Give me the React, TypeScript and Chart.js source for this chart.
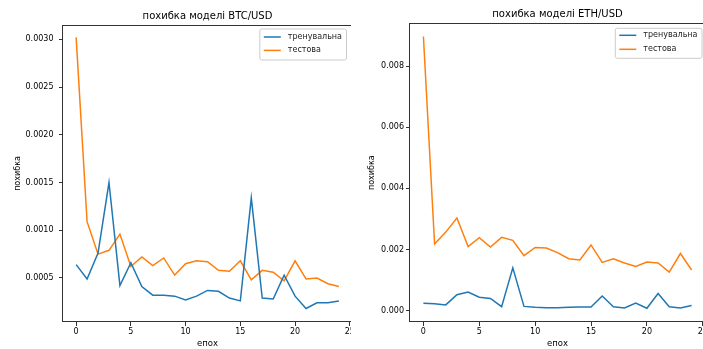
import React, { useEffect, useRef } from "react";
import { Chart, registerables } from "chart.js";

Chart.register(...registerables);

// ---------- data ----------
const epochs = [0, 1, 2, 3, 4, 5, 6, 7, 8, 9, 10, 11, 12, 13, 14, 15, 16, 17, 18, 19, 20, 21, 22, 23, 24];

const btcTrain = [
  0.00064, 0.00049, 0.00076, 0.0015, 0.00042, 0.00066, 0.00041, 0.00032, 0.00032, 0.00031,
  0.00027, 0.00031, 0.00037, 0.00036, 0.00029, 0.00026, 0.00134, 0.00029, 0.00028, 0.00053,
  0.00031, 0.00018, 0.00024, 0.00024, 0.00026,
];
const btcTest = [
  0.00302, 0.00109, 0.00075, 0.00079, 0.00096, 0.00062, 0.00072, 0.00063, 0.00071, 0.00053,
  0.00065, 0.00068, 0.00067, 0.00058, 0.00057, 0.00068, 0.00048, 0.00058, 0.00056, 0.00047,
  0.00068, 0.00049, 0.0005, 0.00044, 0.00041,
];
const ethTrain = [
  0.00024, 0.00023, 0.00019, 0.00052, 0.00061, 0.00044, 0.0004, 0.00013, 0.0014, 0.00014,
  0.00011, 0.0001, 0.0001, 0.00011, 0.00012, 0.00012, 0.00048, 0.00013, 0.00009, 0.00025,
  0.00008, 0.00056, 0.00013, 0.00009, 0.00017,
];
const ethTest = [
  0.00897, 0.00218, 0.00257, 0.00303, 0.0021, 0.00239, 0.00208, 0.0024, 0.0023, 0.0018,
  0.00207, 0.00205, 0.0019, 0.0017, 0.00166, 0.00215, 0.00158, 0.0017, 0.00156, 0.00145,
  0.00159, 0.00156, 0.00126, 0.00187, 0.00133,
];

const xTicks = [0, 5, 10, 15, 20, 25];
const btcYTicks = [0.0005, 0.001, 0.0015, 0.002, 0.0025, 0.003];
const ethYTicks = [0, 0.002, 0.004, 0.006, 0.008];

const seriesLabels = ["тренувальна", "тестова"];
const btcTitle = "похибка моделі BTC/USD";
const ethTitle = "похибка моделі ETH/USD";
const xLabel = "епох";
const yLabel = "похибка";

// ---------- styles ----------
const FONT = '"DejaVu Sans", sans-serif';
const BLUE = "#1f77b4";
const ORANGE = "#ff7f0e";
const SPINE = "#333333";

const framePlugin = {
  id: "mplFrame",
  afterDatasetsDraw(chart: any) {
    const { ctx, chartArea: a } = chart;
    ctx.save();
    ctx.strokeStyle = SPINE;
    ctx.lineWidth = 1;
    const l = Math.round(a.left) - 0.5;
    const t = Math.round(a.top) + 0.5;
    const r = Math.round(a.right) - 0.5;
    const b = Math.round(a.bottom) - 0.5;
    ctx.strokeRect(l, t, r - l, b - t);
    ctx.restore();
  },
};

const legendPlugin = {
  id: "mplLegend",
  afterDraw(chart: any, _args: any, opts: any) {
    const { ctx, chartArea: a } = chart;
    ctx.save();
    ctx.font = `8px ${FONT}`;
    const items = chart.data.datasets.map((d: any) => ({ label: d.label, color: d.borderColor }));
    const textW = Math.max(...items.map((i: any) => ctx.measureText(i.label).width));
    const padL = 4, lineLen = 17, gap = 7, padR = 4.5;
    const w = padL + lineLen + gap + textW + padR;
    const h = opts.boxH;
    const right = a.right - opts.padRight;
    const top = a.top + opts.padTop;
    const left = right - w;
    const rad = 2;
    ctx.beginPath();
    ctx.moveTo(left + rad, top);
    ctx.lineTo(right - rad, top);
    ctx.quadraticCurveTo(right, top, right, top + rad);
    ctx.lineTo(right, top + h - rad);
    ctx.quadraticCurveTo(right, top + h, right - rad, top + h);
    ctx.lineTo(left + rad, top + h);
    ctx.quadraticCurveTo(left, top + h, left, top + h - rad);
    ctx.lineTo(left, top + rad);
    ctx.quadraticCurveTo(left, top, left + rad, top);
    ctx.closePath();
    ctx.fillStyle = "rgba(255,255,255,0.8)";
    ctx.fill();
    ctx.strokeStyle = "#cccccc";
    ctx.lineWidth = 1;
    ctx.stroke();
    items.forEach((it: any, i: number) => {
      const y = top + opts.row0 + i * opts.rowH;
      ctx.strokeStyle = it.color;
      ctx.lineWidth = 1.5;
      ctx.beginPath();
      ctx.moveTo(left + padL, y);
      ctx.lineTo(left + padL + lineLen, y);
      ctx.stroke();
      ctx.fillStyle = "#222";
      ctx.textAlign = "left";
      ctx.textBaseline = "middle";
      ctx.fillText(it.label, left + padL + lineLen + gap, y);
    });
    ctx.restore();
  },
};

type PanelParams = {
  title: string;
  train: number[];
  test: number[];
  yTicks: number[];
  yMin: number;
  yMax: number;
  decimals: number;
  yWidth: number;
  yTickPad: number;
  yTitlePad: number;
  titleTop: number;
  titleBottom: number;
  legend: { padRight: number; padTop: number; boxH: number; row0: number; rowH: number };
};

function buildConfig(p: PanelParams): any {
  const tickFont = { family: FONT, size: 8 };
  return {
    type: "line",
    data: {
      datasets: [
        {
          label: seriesLabels[0],
          data: epochs.map((e, i) => ({ x: e, y: p.train[i] })),
          borderColor: BLUE,
          borderWidth: 1.5,
          pointRadius: 0,
          fill: false,
          tension: 0,
        },
        {
          label: seriesLabels[1],
          data: epochs.map((e, i) => ({ x: e, y: p.test[i] })),
          borderColor: ORANGE,
          borderWidth: 1.5,
          pointRadius: 0,
          fill: false,
          tension: 0,
        },
      ],
    },
    options: {
      responsive: false,
      animation: false,
      events: [],
      layout: { padding: 0 },
      plugins: {
        legend: { display: false },
        tooltip: { enabled: false },
        title: {
          display: true,
          text: p.title,
          fullSize: false,
          color: "#000",
          font: { family: FONT, size: 10, weight: "normal", lineHeight: 1.2 },
          padding: { top: p.titleTop, bottom: p.titleBottom },
        },
        mplLegend: p.legend,
      },
      scales: {
        x: {
          type: "linear",
          min: -1.2,
          max: 25.2,
          afterBuildTicks: (s: any) => {
            s.ticks = xTicks.map((v) => ({ value: v }));
          },
          afterFit: (s: any) => {
            s.height = 27;
            s.paddingLeft = 0;
            s.paddingRight = 0;
          },
          ticks: {
            callback: (v: any) => String(v),
            font: tickFont,
            color: "#000",
            padding: 1.5,
            maxRotation: 0,
            autoSkip: false,
          },
          grid: { drawOnChartArea: false, drawTicks: true, tickLength: 4, tickColor: SPINE, tickWidth: 1 },
          border: { display: false },
          title: {
            display: true,
            text: xLabel,
            color: "#000",
            font: { family: FONT, size: 8.5, lineHeight: 1.2 },
            padding: { top: 0, bottom: 0.5 },
          },
        },
        y: {
          type: "linear",
          min: p.yMin,
          max: p.yMax,
          afterBuildTicks: (s: any) => {
            s.ticks = p.yTicks.map((v) => ({ value: v }));
          },
          afterFit: (s: any) => {
            s.width = p.yWidth;
            s.paddingTop = 0;
            s.paddingBottom = 0;
          },
          ticks: {
            callback: (v: any) => Number(v).toFixed(p.decimals),
            font: tickFont,
            color: "#000",
            padding: p.yTickPad,
            autoSkip: false,
          },
          grid: { drawOnChartArea: false, drawTicks: true, tickLength: 4, tickColor: SPINE, tickWidth: 1 },
          border: { display: false },
          title: {
            display: true,
            text: yLabel,
            color: "#000",
            font: { family: FONT, size: 8, lineHeight: 1.2 },
            padding: { top: p.yTitlePad, bottom: 0 },
          },
        },
      },
    },
    plugins: [framePlugin, legendPlugin],
  };
}

function ChartPanel({ params, canvasWidth }: { params: PanelParams; canvasWidth: number }) {
  const ref = useRef<HTMLCanvasElement | null>(null);
  useEffect(() => {
    if (!ref.current) return;
    const chart = new Chart(ref.current, buildConfig(params));
    return () => chart.destroy();
  }, [params]);
  return <canvas ref={ref} width={canvasWidth} height={349} style={{ display: "block" }} />;
}

const btcParams: PanelParams = {
  title: btcTitle,
  train: btcTrain,
  test: btcTest,
  yTicks: btcYTicks,
  yMin: 0.000039,
  yMax: 0.00315,
  decimals: 4,
  yWidth: 63,
  yTickPad: 5.5,
  yTitlePad: 13,
  titleTop: 10,
  titleBottom: 3,
  legend: { padRight: 5.5, padTop: 4, boxH: 31, row0: 8, rowH: 13.4 },
};

const ethParams: PanelParams = {
  title: ethTitle,
  train: ethTrain,
  test: ethTest,
  yTicks: ethYTicks,
  yMin: -0.00037,
  yMax: 0.0094,
  decimals: 3,
  yWidth: 58,
  yTickPad: 2,
  yTitlePad: 15,
  titleTop: 8.3,
  titleBottom: 3,
  legend: { padRight: 3, padTop: 5, boxH: 30, row0: 7, rowH: 14 },
};

export default function App() {
  return (
    <div style={{ position: "fixed", left: 0, top: 0, width: 703, height: 349, background: "#fff" }}>
      <div style={{ position: "absolute", left: 0, top: 0, width: 351, height: 349, overflow: "hidden" }}>
        <ChartPanel params={btcParams} canvasWidth={352} />
      </div>
      <div style={{ position: "absolute", left: 352, top: 0, width: 351, height: 349, overflow: "hidden" }}>
        <ChartPanel params={ethParams} canvasWidth={353} />
      </div>
    </div>
  );
}
